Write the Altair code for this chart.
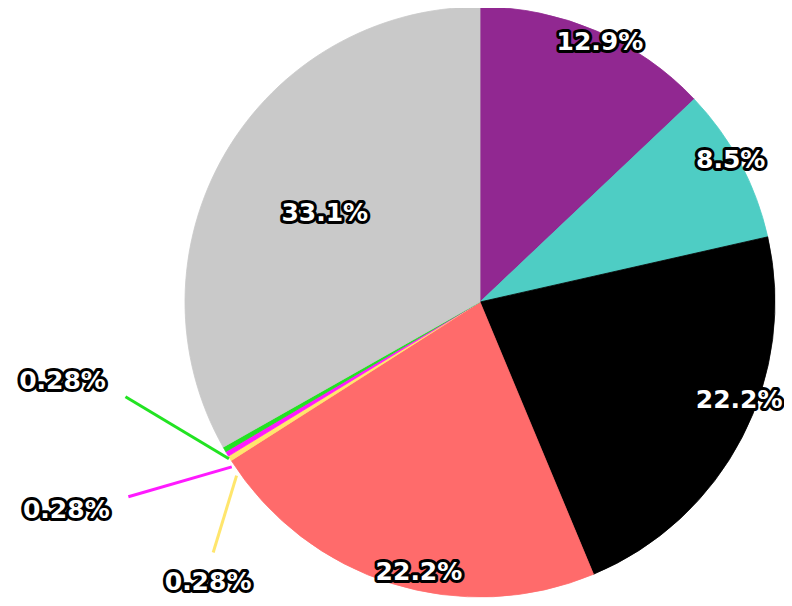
import math
import altair as alt
import pandas as pd

# ---- data ----
categories = ["purple", "teal", "black", "salmon", "yellow", "magenta", "green", "grey"]
values = [12.9, 8.5, 22.2, 22.2, 0.28, 0.28, 0.28, 33.1]
labels = ["12.9%", "8.5%", "22.2%", "22.2%", "0.28%", "0.28%", "0.28%", "33.1%"]
colors = ["#912891", "#4ECDC4", "#000000", "#FF6B6B", "#FFE66D", "#FF1AFF", "#22E322", "#C9C9C9"]

# ---- layout (label placement: angle nudge in degrees, radius in px) ----
W, H = 776, 590
CX, CY = 472, 294          # pie centre inside the plot area
R = 295
inside_label = {"purple": (1.5, 286), "teal": (-1.4, 288), "black": (-6.6, 277),
                "salmon": (-4.7, 277), "grey": (-0.4, 179)}
# small slices: (inner nudge, inner r, outer nudge, outer r, label nudge, label r)
outside_label = {"green": (-2.0, 296, 15.0, 367, 19.2, 425),
                 "magenta": (-2.6, 298, 2.0, 402, 4.3, 463),
                 "yellow": (-3.5, 299, -11.2, 366, -13.8, 390)}

total = sum(values)
rows, text_rows, rule_rows = [], [], []
cum = 0.0


def pol(a, r):
    rad = math.radians(a)
    return r * math.sin(rad), r * math.cos(rad)


for i, (c, v, lab) in enumerate(zip(categories, values, labels)):
    mid = (cum + v / 2) / total * 360
    cum += v
    rows.append({"cat": c, "value": v, "order": i})
    if c in inside_label:
        nud, r = inside_label[c]
        x, y = pol(mid + nud, r)
        text_rows.append({"cat": c, "label": lab, "x": x, "y": y})
    else:
        n1, r1, n2, r2, n3, r3 = outside_label[c]
        x1, y1 = pol(mid + n1, r1)
        x2, y2 = pol(mid + n2, r2)
        x3, y3 = pol(mid + n3, r3)
        rule_rows.append({"cat": c, "x": x1, "y": y1, "x2": x2, "y2": y2})
        text_rows.append({"cat": c, "label": lab, "x": x3, "y": y3})

df = pd.DataFrame(rows)
tdf = pd.DataFrame(text_rows)
rdf = pd.DataFrame(rule_rows)

color_scale = alt.Scale(domain=categories, range=colors)
xs = alt.Scale(domain=[-CX, W - CX], nice=False, zero=False)
ys = alt.Scale(domain=[-(H - CY), CY], nice=False, zero=False)

pie = alt.Chart(df).mark_arc(outerRadius=R, strokeWidth=0.8).encode(
    theta=alt.Theta("value:Q", stack=True),
    color=alt.Color("cat:N", scale=color_scale, legend=None),
    stroke=alt.Stroke("cat:N", scale=color_scale, legend=None),
    order=alt.Order("order:Q"),
    x=alt.value(CX),
    y=alt.value(CY),
)

lines = alt.Chart(rdf).mark_rule(strokeWidth=3).encode(
    x=alt.X("x:Q", scale=xs, axis=None),
    y=alt.Y("y:Q", scale=ys, axis=None),
    x2="x2:Q",
    y2="y2:Q",
    color=alt.Color("cat:N", scale=color_scale, legend=None),
)

font = dict(font="DejaVu Sans", fontSize=25, fontWeight="bold", align="center", baseline="middle")
txt_outline = alt.Chart(tdf).mark_text(stroke="black", strokeWidth=6, fill="black",
                                       strokeJoin="round", **font).encode(
    x=alt.X("x:Q", scale=xs, axis=None),
    y=alt.Y("y:Q", scale=ys, axis=None),
    text="label:N",
)
txt_fill = alt.Chart(tdf).mark_text(fill="white", **font).encode(
    x=alt.X("x:Q", scale=xs, axis=None),
    y=alt.Y("y:Q", scale=ys, axis=None),
    text="label:N",
)

chart = alt.layer(pie, lines, txt_outline, txt_fill).properties(
    width=W, height=H, padding=0, autosize=alt.AutoSizeParams(type="none")
).configure_view(stroke=None)

chart.save("out.html", embed_options={"renderer": "svg", "actions": False})
